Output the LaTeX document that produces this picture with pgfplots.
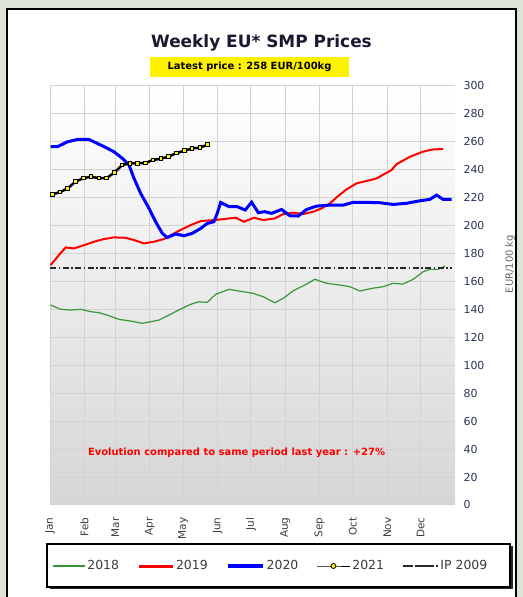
\documentclass[border=0pt]{standalone}
\usepackage{fontspec}
\setmainfont{DejaVu Sans}
\usepackage{pgfplots}
\pgfplotsset{compat=1.18}
\definecolor{outerbg}{RGB}{221,227,213}
\definecolor{gridc}{RGB}{210,210,210}
\definecolor{bgbot}{RGB}{214,214,214}
\definecolor{tickc}{RGB}{40,52,84}
\definecolor{greenl}{RGB}{56,150,56}
\definecolor{ipc}{RGB}{40,40,40}
\definecolor{titlec}{RGB}{25,25,50}
\definecolor{labc}{RGB}{60,60,60}
\pgfplotsset{
  licline/.style 2 args={legend image code/.code={\draw[##1, line width=#2] (0bp,0bp) -- (#1,0bp);}},
  licip/.style={legend image code/.code={\path (0bp,0bp) -- (35bp,0bp);\draw[##1, line width=1.2bp, dash pattern=on 7bp off 4bp on 1.5bp off 4bp] (2bp,0bp) -- (30bp,0bp);}},
  licmark/.style={legend image code/.code={\draw[##1, line width=1bp, mark=*, mark size=2.5bp, mark options={fill=yellow, draw=black, line width=0.8bp}, mark repeat=2, mark phase=2] plot coordinates {(0bp,0bp) (16.5bp,0bp) (33bp,0bp)};}},
}
\begin{document}
\begin{tikzpicture}[x=1bp,y=1bp]
\useasboundingbox (0,0) rectangle (523,597);
\fill[outerbg] (0,0) rectangle (523,597);
\draw[line width=1.5bp, fill=white] (7,-10) rectangle (516,588);
% legend frame
\fill[black!85] (49.5,7.5) rectangle (512.5,50.5);
\draw[line width=1.2bp, fill=white] (47,10) rectangle (510,53);
\node[font=\bfseries\fontsize{17}{19}\selectfont, text=titlec] at (261.5,554) {Weekly EU* SMP Prices};
\node[fill=yellow, minimum width=199bp, minimum height=20bp, inner sep=0pt, font=\bfseries\fontsize{10}{11}\selectfont] at (249.5,530) {Latest price : 258 EUR/100kg};
\node[rotate=90, font=\fontsize{10}{12}\selectfont, text=black!60] at (510,333) {EUR/100 kg};
\begin{axis}[
  at={(50bp,92bp)}, anchor=south west,
  width=405bp, height=419bp, scale only axis,
  xmin=0, xmax=365, ymin=0, ymax=300,
  xtick={0,31,59,90,120,151,181,212,243,273,304,334},
  xticklabels={Jan,Feb,Mar,Apr,May,Jun,Jul,Aug,Sep,Oct,Nov,Dec},
  ytick={0,20,...,300},
  grid=major,
  major grid style={draw=gridc, line width=1bp},
  axis line style={draw=none},
  major tick length=0pt,
  axis background/.style={top color=white, bottom color=bgbot},
  yticklabel pos=right,
  yticklabel style={font=\fontsize{11}{12}\selectfont, text=tickc, anchor=west},
  yticklabel shift=5bp,
  xticklabel style={font=\fontsize{10.5}{12}\selectfont, text=labc, rotate=90, anchor=east},
  xticklabel shift=9bp,
  /pgf/number format/assume math mode=true,
  legend columns=5,
  legend style={at={(axis description cs:-0.0025,-0.1456)}, anchor=west, draw=none, fill=none,
    font=\fontsize{12.5}{14}\selectfont, text=labc,
    /tikz/every even column/.append style={column sep=16bp}},
]
% 2018
\addplot[greenl, line width=1.2bp, licline={32bp}{1.2bp}] coordinates {
(0.6,143.2) (9.6,140.1) (18.6,139.6) (27.7,140.1) (36.7,138.4) (44.1,137.7)
(53.2,135.5) (62.2,132.9) (72.7,131.7) (83.2,130.1) (90.7,131.2) (98.2,132.4)
(107.2,136) (117.7,140.3) (126.8,143.7) (134.2,145.5) (141.7,145.1) (149.3,150.8)
(161.3,154.4) (171.8,153) (183.2,151.5) (192.2,149.1) (202.7,144.8) (210.2,148)
(219.2,153.4) (229.7,157.5) (238.7,161.6) (249.3,158.7) (261.3,157.5) (270.3,156.3)
(279.3,153.2) (289.8,155.1) (300.3,156.3) (309.3,158.7) (318.3,158.2) (327.3,161.6)
(336.3,167) (342.3,168.7) (349.8,168.7) (355.9,171.1)
};
\addlegendentry{2018}
% 2019
\addplot[red, line width=2bp, licline={34bp}{3bp}] coordinates {
(0.6,171.8) (8.1,179) (14.1,184.4) (21.6,183.7) (30.6,186) (39.6,188.5) (48.6,190.4)
(57.7,191.6) (68.2,191.3) (75.7,189.7) (84.7,187.3) (93.7,188.5) (102.7,190.4)
(114.7,195.7) (126.8,200.4) (135.8,203.3) (147.7,204) (156.8,204.7) (167.3,205.7)
(174.8,202.8) (183.8,205.7) (192.2,204) (202.7,205.2) (210.2,208.3) (219.2,209.3)
(228.2,208.3) (237.2,210) (244.8,212.4) (252.3,216) (259.7,221.2) (267.3,226)
(276.3,230.3) (285.3,232) (294.3,233.8) (300.3,236.5) (307.8,239.8) (312.3,244)
(324.3,249.3) (336.3,253) (345.3,254.6) (354.3,254.8)
};
\addlegendentry{2019}
% 2020
\addplot[blue, line width=3bp, licline={35bp}{4bp}] coordinates {
(0.6,256.5) (6.6,256.5) (15.6,260) (24.6,261.7) (35.1,261.7) (42.6,258.9) (50.2,256)
(57.7,252.9) (65.1,248.2) (71.2,243.4) (75.7,233.9) (81.7,223.1) (89.2,212.4)
(95.2,202.8) (101.2,194.5) (105.7,191.5) (113.2,194) (120.7,192.8) (128.2,194.5)
(135.8,198) (141.7,201.6) (147.7,202.8) (150.7,208.8) (153.8,216.6) (161.3,213.6)
(168.7,213.6) (175.9,211.2) (181.7,216.8) (187.7,209.3) (193.7,210) (199.7,208.8)
(208.7,211.6) (216.2,207.1) (223.7,206.9) (231.3,211.6) (240.3,214) (252.3,214.7)
(264.2,214.7) (273.2,216.7) (285.3,216.7) (297.3,216.4) (309.3,215.2) (321.3,216)
(333.3,217.8) (342.3,218.8) (348.4,221.9) (354.3,218.8) (361.9,218.8)
};
\addlegendentry{2020}
% 2021
\addplot[black, line width=2.5bp, mark=square*, mark size=1.8bp,
  mark options={fill=yellow, draw=black, line width=1bp}, licmark] coordinates {
(2,222.4) (9,224) (16,226.7) (23,231.5) (30,234) (37,235) (44,234) (51,234)
(58,238) (65,243.4) (72,244.6) (79,244.6) (86,245) (93,247) (100,248) (107,249.4)
(114,252) (121,253.6) (128,255.3) (135,255.8) (142,258)
};
\addlegendentry{2021}
% IP 2009
\addplot[ipc, line width=1.4bp, dash pattern=on 6bp off 2.5bp on 1.5bp off 2.5bp,
  licip] coordinates {
(0,169.8) (362,169.8)
};
\addlegendentry{IP 2009}
\end{axis}
\node[font=\bfseries\fontsize{10}{11}\selectfont, text=red] at (236.5,144) {Evolution compared to same period last year : +27\%};
\end{tikzpicture}
\end{document}
